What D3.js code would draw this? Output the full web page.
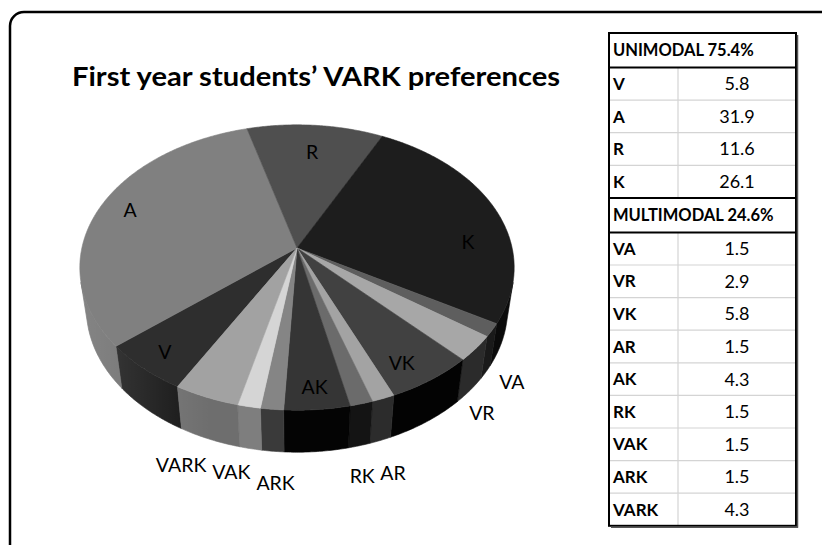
<!DOCTYPE html>
<html><head><meta charset="utf-8">
<script src="https://cdn.jsdelivr.net/npm/d3@7"></script>
<style>body{margin:0;background:#fff}</style>
</head><body><svg id="c" width="822" height="545"></svg>
<script>
// ---------- data ----------
const title = "First year students’ VARK preferences";
const groupTitles = ["UNIMODAL 75.4%", "MULTIMODAL 24.6%"];
const uniCategories = ["V", "A", "R", "K"];
const uniValues = [5.8, 31.9, 11.6, 26.1];
const multiCategories = ["VA", "VR", "VK", "AR", "AK", "RK", "VAK", "ARK", "VARK"];
const multiValues = [1.5, 2.9, 5.8, 1.5, 4.3, 1.5, 1.5, 1.5, 4.3];
const pieOrder = ["V", "A", "R", "K", "VA", "VR", "VK", "AR", "RK", "AK", "ARK", "VAK", "VARK"];
const insideLabels = ["V", "A", "R", "K", "VK", "AK"];

// ---------- styles ----------
const topColor = {V:"#2e2e2e",A:"#808080",R:"#4f4f4f",K:"#1d1d1d",VA:"#5e5e5e",VR:"#a7a7a7",VK:"#414141",
  AR:"#a3a3a3",RK:"#6b6b6b",AK:"#353535",ARK:"#858585",VAK:"#d5d5d5",VARK:"#a2a2a2"};
const sideColor = {V:"#151515",A:"#6a6a6a",R:"#3a3a3a",K:"#0b0b0b",VA:"#1a1a1a",VR:"#2b2b2b",VK:"#030303",
  AR:"#2c2c2c",RK:"#141414",AK:"#040404",ARK:"#3a3a3a",VAK:"#7e7e7e",VARK:"#6e6e6e"};
const labelNudge = {R:[0,5],A:[-8,-5],K:[11,25],V:[-12,10],VK:[0,12],AK:[2,14],
  VA:[-5,-3],VR:[-17,6],AR:[-2,6],RK:[-8,3],ARK:[7,3],VAK:[-11,-5],VARK:[-13,0]};

const valueOf = new Map([
  ...uniCategories.map((c, i) => [c, uniValues[i]]),
  ...multiCategories.map((c, i) => [c, multiValues[i]])
]);
const pieData = pieOrder.map(c => ({cat: c, value: valueOf.get(c)}));

const svg = d3.select("#c");
const FONT = "Lato, 'Open Sans', sans-serif";

// frame
svg.append("rect").attr("x", 10).attr("y", 12).attr("width", 850).attr("height", 570)
  .attr("rx", 14).attr("fill", "#fff").attr("stroke", "#000").attr("stroke-width", 2.5);

// title
svg.append("text").attr("x", 72).attr("y", 86)
  .attr("font-family", FONT).attr("font-weight", "bold").attr("font-size", 26)
  .attr("textLength", 488).attr("lengthAdjust", "spacingAndGlyphs")
  .attr("fill", "#000").text(title);

// ---------- 3D pie ----------
const cam = {cx: 297, cy: 248, f: 1194, D: 5.55, tilt: 40.6 * Math.PI / 180, h: 0.26};
const cT = Math.cos(cam.tilt), sT = Math.sin(cam.tilt);
function proj(X, Z, Y) {
  const yc = Y * cT - Z * sT;
  const zc = cam.D - (Y * sT + Z * cT);
  return [cam.cx + cam.f * X / zc, cam.cy - cam.f * yc / zc];
}
function pt(theta, r, Y) { return proj(r * Math.sin(theta), -r * Math.cos(theta), Y); }

const startA = -150.7 * Math.PI / 180;
const arcs = d3.pie().value(d => d.value).sort(null)
  .startAngle(startA).endAngle(startA + 2 * Math.PI)(pieData);

function arcPoints(a0, a1, r, Y) {
  const n = Math.max(2, Math.ceil((a1 - a0) / (0.5 * Math.PI / 180)));
  return d3.range(n + 1).map(i => pt(a0 + (a1 - a0) * i / n, r, Y));
}

const lim = Math.acos(-1 / (cam.D * cT));
const visRanges = [[lim, 2 * Math.PI - lim], [lim - 2 * Math.PI, -lim]];
const line = d3.line();

const defs = svg.append("defs");
const lg = defs.append("linearGradient").attr("id", "wallShade").attr("gradientUnits", "userSpaceOnUse")
  .attr("x1", 80).attr("x2", 515).attr("y1", 0).attr("y2", 0);
lg.append("stop").attr("offset", 0).attr("stop-color", "#fff").attr("stop-opacity", 0.18);
lg.append("stop").attr("offset", 0.3).attr("stop-color", "#fff").attr("stop-opacity", 0);
lg.append("stop").attr("offset", 1).attr("stop-color", "#fff").attr("stop-opacity", 0);

const gWall = svg.append("g");
arcs.forEach(a => {
  visRanges.forEach(([v0, v1]) => {
    const a0 = Math.max(a.startAngle, v0), a1 = Math.min(a.endAngle, v1);
    if (a1 <= a0) return;
    const topPts = arcPoints(a0, a1, 1, 0);
    const botPts = arcPoints(a0, a1, 1, -cam.h).reverse();
    const poly = topPts.concat(botPts);
    gWall.append("path").attr("d", line(poly) + "Z")
      .attr("fill", sideColor[a.data.cat]).attr("stroke", sideColor[a.data.cat]).attr("stroke-width", 0.6);
    gWall.append("path").attr("d", line(poly) + "Z").attr("fill", "url(#wallShade)");
  });
});

const gTop = svg.append("g");
arcs.forEach(a => {
  const pts = [proj(0, 0, 0)].concat(arcPoints(a.startAngle, a.endAngle, 1, 0));
  gTop.append("path").attr("d", line(pts) + "Z")
    .attr("fill", topColor[a.data.cat]).attr("stroke", topColor[a.data.cat]).attr("stroke-width", 0.6)
    .attr("stroke-linejoin", "round");
});

// labels
const gLab = svg.append("g").attr("font-family", FONT).attr("font-size", 19.5).attr("fill", "#000");
arcs.forEach(a => {
  const mid = (a.startAngle + a.endAngle) / 2;
  const inside = insideLabels.includes(a.data.cat);
  const p = inside ? pt(mid, 0.8, 0) : pt(mid, 1.15, -cam.h);
  const nd = labelNudge[a.data.cat] || [0, 0];
  gLab.append("text").attr("x", p[0] + nd[0]).attr("y", p[1] + nd[1])
    .attr("dy", "0.35em").attr("text-anchor", "middle").text(a.data.cat);
});

// ---------- table ----------
const tbl = {x: 609, w: 187, colX: 678, y: 33, headH: 34.5, rowH: 32.6};
const rows = [];
rows.push({head: true, text: groupTitles[0]});
uniCategories.forEach((c, i) => rows.push({head: false, cat: c, val: uniValues[i]}));
rows.push({head: true, text: groupTitles[1]});
multiCategories.forEach((c, i) => rows.push({head: false, cat: c, val: multiValues[i]}));
let yy = tbl.y;
rows.forEach(r => { r.y0 = yy; r.h = r.head ? tbl.headH : tbl.rowH; yy += r.h; });
const tblBottom = yy;

const gT = svg.append("g").attr("font-family", FONT).attr("font-size", 16.5).attr("fill", "#000");
rows.forEach((r, i) => {
  if (!r.head) {
    gT.append("line").attr("x1", tbl.colX).attr("x2", tbl.colX).attr("y1", r.y0).attr("y2", r.y0 + r.h)
      .attr("stroke", "#d4d4d4").attr("stroke-width", 1.2);
    if (i > 0 && !rows[i - 1].head) {
      gT.append("line").attr("x1", tbl.x).attr("x2", tbl.x + tbl.w).attr("y1", r.y0).attr("y2", r.y0)
        .attr("stroke", "#d4d4d4").attr("stroke-width", 1.2);
    }
  }
});
rows.forEach(r => {
  if (r.head) {
    [r.y0, r.y0 + r.h].forEach(y => gT.append("line").attr("x1", tbl.x).attr("x2", tbl.x + tbl.w)
      .attr("y1", y).attr("y2", y).attr("stroke", "#000").attr("stroke-width", 2));
  }
});
gT.append("rect").attr("x", tbl.x).attr("y", tbl.y).attr("width", tbl.w).attr("height", tblBottom - tbl.y)
  .attr("fill", "none").attr("stroke", "#000").attr("stroke-width", 2);
gT.append("line").attr("x1", tbl.x + tbl.w + 1.5).attr("x2", tbl.x + tbl.w + 1.5)
  .attr("y1", tbl.y + 2).attr("y2", tblBottom + 2).attr("stroke", "#555").attr("stroke-width", 1.5);
gT.append("line").attr("x1", tbl.x + 2).attr("x2", tbl.x + tbl.w + 2)
  .attr("y1", tblBottom + 1.5).attr("y2", tblBottom + 1.5).attr("stroke", "#555").attr("stroke-width", 1.5);
rows.forEach(r => {
  const cy = r.y0 + r.h / 2;
  if (r.head) {
    gT.append("text").attr("x", tbl.x + 4).attr("y", cy).attr("dy", "0.36em")
      .attr("font-weight", "bold").text(r.text);
  } else {
    gT.append("text").attr("x", tbl.x + 4).attr("y", cy).attr("dy", "0.36em")
      .attr("font-size", 17).attr("font-weight", "bold").text(r.cat);
    gT.append("text").attr("x", (tbl.colX + tbl.x + tbl.w) / 2).attr("y", cy).attr("dy", "0.36em")
      .attr("font-size", 18).attr("text-anchor", "middle").text(d3.format(".1f")(r.val));
  }
});
</script>
</body></html>
